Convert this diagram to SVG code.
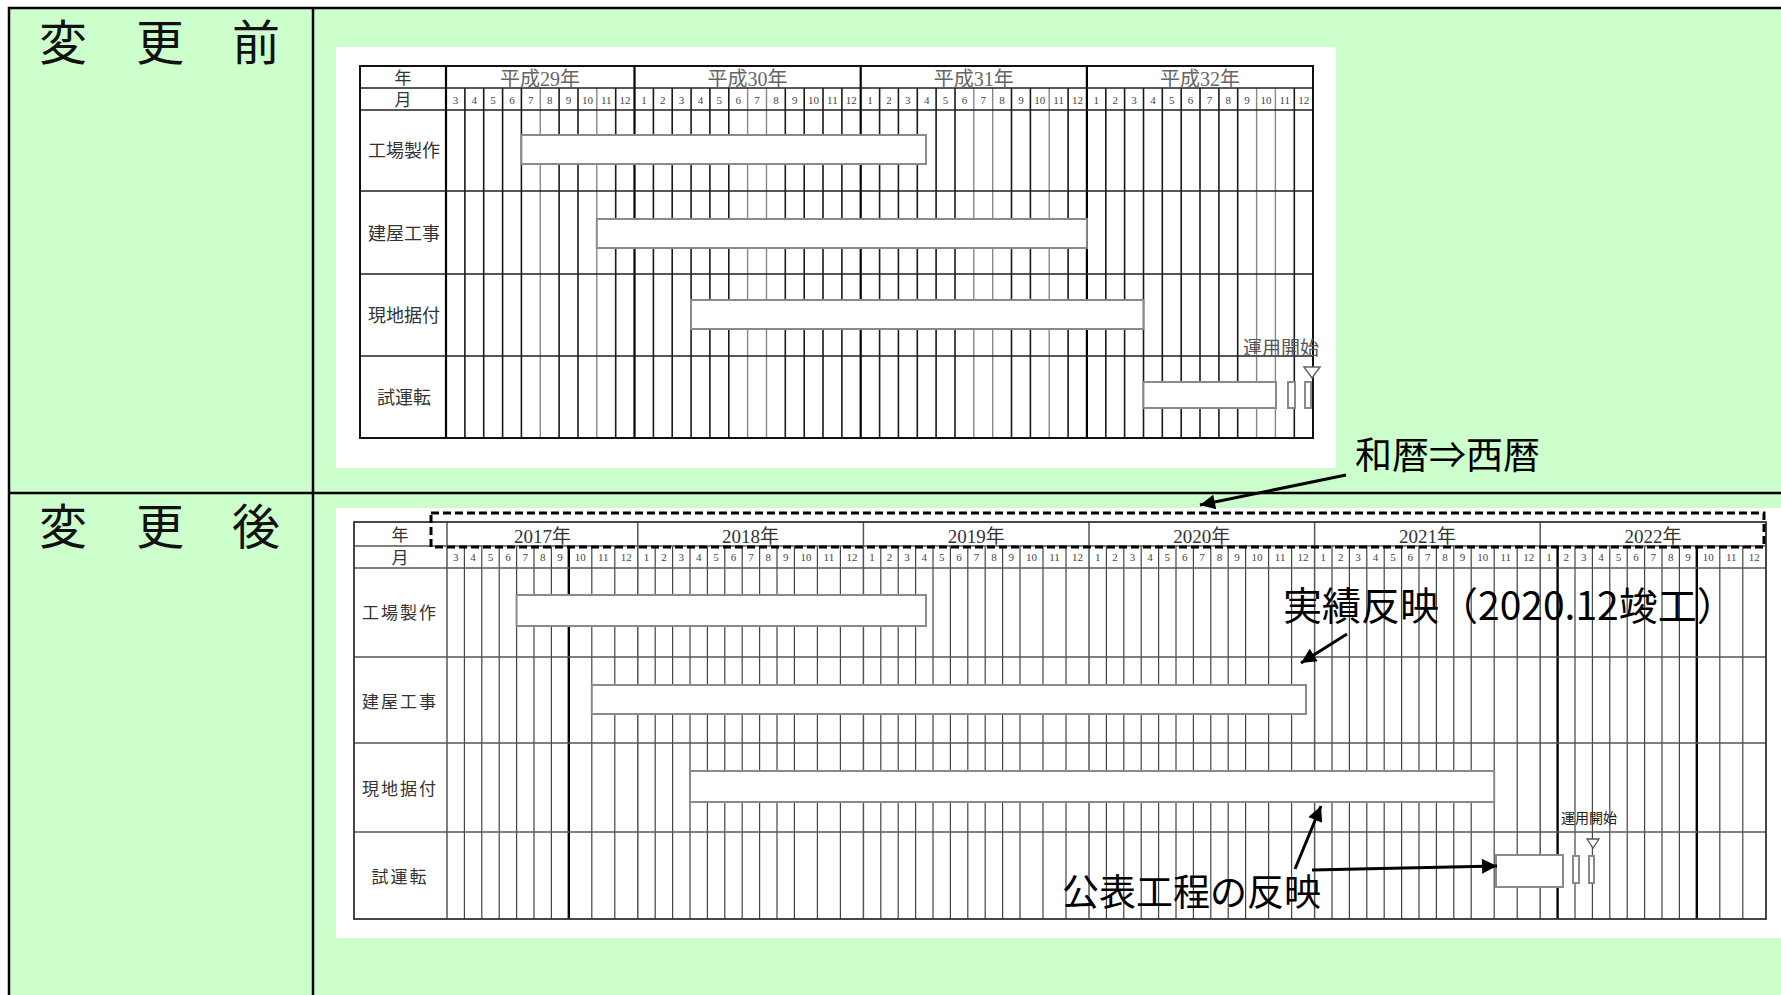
<svg xmlns="http://www.w3.org/2000/svg" width="1781" height="995" viewBox="0 0 1781 995">
<style>
.frame{stroke:#000;stroke-width:2.5;fill:none}
.bord{fill:none;stroke:#111;stroke-width:2}
.hl{stroke:#222;stroke-width:1.5;fill:none}
.gk{stroke:#1a1a1a;stroke-width:1.6;fill:none}
.gl{stroke:#888;stroke-width:1.4;fill:none}
.gy{stroke:#000;stroke-width:2.2;fill:none}
.lg{stroke:#444;stroke-width:1.2;fill:none}
.lgy{stroke:#555;stroke-width:1.5;fill:none}
.lth{stroke:#000;stroke-width:2.4;fill:none}
.bar{fill:#fff;stroke:#8a8a8a;stroke-width:2}
.big{font-family:"Noto Sans CJK JP","Noto Sans CJK SC",sans-serif;font-size:48px;fill:#111}
.lab{font-family:"Noto Sans CJK JP","Noto Sans CJK SC",sans-serif;font-size:17px;fill:#333;text-anchor:middle}
.lab18{font-size:18px}
.yr{font-family:"Liberation Serif","Noto Sans CJK JP",serif;font-size:20px;fill:#666;text-anchor:middle}
.yr2{font-family:"Liberation Serif","Noto Sans CJK JP",serif;font-size:19px;fill:#333;text-anchor:middle}
.m{font-family:"Liberation Serif",serif;font-size:11px;fill:#444;text-anchor:middle}
.ann{font-family:"Noto Sans CJK JP","Noto Sans CJK SC",sans-serif;font-size:37px;fill:#000}
.arr{stroke:#000;stroke-width:3;fill:none;marker-end:url(#ah)}
</style>
<defs>
<marker id="ah" viewBox="0 0 10 10" refX="10" refY="5" markerWidth="7" markerHeight="5" orient="auto" markerUnits="strokeWidth">
<path d="M0,0 L10,5 L0,10 z" fill="#000"/>
</marker>
</defs>
<rect x="0" y="0" width="1781" height="995" fill="#fff"/>
<rect x="9" y="8" width="1772" height="987" fill="#ccffcc"/>
<g id="frame">
<path class="frame" d="M9,995V8H1781 M313,8V995 M9,493H1781"/>
</g>
<g id="label-before"><text class="big" y="60" text-anchor="middle"><tspan x="63">変</tspan><tspan x="160">更</tspan><tspan x="256">前</tspan></text></g>
<g id="label-after"><text class="big" y="544" text-anchor="middle"><tspan x="63">変</tspan><tspan x="160">更</tspan><tspan x="256">後</tspan></text></g>

<g id="chart-before">
<rect x="336" y="47" width="1000" height="421" fill="#fff"/>
<path class="gk" d="M464.9 88V438M483.7 88V438M502.6 88V438M521.4 88V438M559.1 88V438M578 88V438M615.7 88V438M653.4 88V438M672.2 88V438M691.1 88V438M709.9 88V438M728.8 88V438M785.3 88V438M804.2 88V438M823 88V438M841.9 88V438M879.6 88V438M898.4 88V438M917.3 88V438M936.1 88V438M955 88V438M1011.5 88V438M1030.4 88V438M1068.1 88V438M1105.8 88V438M1124.6 88V438M1143.5 88V438M1162.3 88V438M1181.2 88V438M1200 88V438M1218.9 88V438M1237.7 88V438M1294.3 88V438"/>
<path class="gl" d="M540.3 88V438M596.8 88V438M747.6 88V438M766.5 88V438M973.8 88V438M992.7 88V438M1049.2 88V438M1256.6 88V438M1275.4 88V438"/>
<path class="gy" d="M634.5 66V438M860.7 66V438M1086.9 66V438M446 66V438"/>
<path class="hl" d="M360 88H1313M360 110H1313M360 191H1313M360 274H1313M360 356H1313"/>
<rect class="bord" x="360" y="66" width="953" height="372"/>
<text class="lab" x="403" y="84">年</text>
<text class="lab" x="403" y="106">月</text>
<text class="yr" y="86"><tspan x="540">平成29年</tspan><tspan x="747.6">平成30年</tspan><tspan x="973.8">平成31年</tspan><tspan x="1200">平成32年</tspan></text>
<text class="m" y="104"><tspan x="455.4">3</tspan><tspan x="474.3">4</tspan><tspan x="493.1">5</tspan><tspan x="512">6</tspan><tspan x="530.8">7</tspan><tspan x="549.7">8</tspan><tspan x="568.5">9</tspan><tspan x="587.4">10</tspan><tspan x="606.2">11</tspan><tspan x="625.1">12</tspan><tspan x="643.9">1</tspan><tspan x="662.8">2</tspan><tspan x="681.6">3</tspan><tspan x="700.5">4</tspan><tspan x="719.3">5</tspan><tspan x="738.2">6</tspan><tspan x="757">7</tspan><tspan x="775.9">8</tspan><tspan x="794.7">9</tspan><tspan x="813.6">10</tspan><tspan x="832.4">11</tspan><tspan x="851.3">12</tspan><tspan x="870.1">1</tspan><tspan x="889">2</tspan><tspan x="907.8">3</tspan><tspan x="926.7">4</tspan><tspan x="945.5">5</tspan><tspan x="964.4">6</tspan><tspan x="983.2">7</tspan><tspan x="1002.1">8</tspan><tspan x="1020.9">9</tspan><tspan x="1039.8">10</tspan><tspan x="1058.6">11</tspan><tspan x="1077.5">12</tspan><tspan x="1096.3">1</tspan><tspan x="1115.2">2</tspan><tspan x="1134">3</tspan><tspan x="1152.9">4</tspan><tspan x="1171.7">5</tspan><tspan x="1190.6">6</tspan><tspan x="1209.4">7</tspan><tspan x="1228.3">8</tspan><tspan x="1247.1">9</tspan><tspan x="1266">10</tspan><tspan x="1284.8">11</tspan><tspan x="1303.7">12</tspan></text>
<text class="lab lab18" x="404" y="157">工場製作</text>
<text class="lab lab18" x="404" y="240">建屋工事</text>
<text class="lab lab18" x="404" y="322">現地据付</text>
<text class="lab lab18" x="404" y="404">試運転</text>
<rect class="bar" x="521.4" y="135" width="404.6" height="29"/>
<rect class="bar" x="596.8" y="219" width="490.1" height="29"/>
<rect class="bar" x="691" y="300" width="452.4" height="29"/>
<rect class="bar" x="1143.4" y="382" width="132.6" height="26"/>
<rect class="bar" x="1288" y="382" width="7" height="26"/>
<rect class="bar" x="1305" y="382" width="6" height="26"/>
<path d="M1304,367 L1320,367 L1312,378 z" fill="#fff" stroke="#666" stroke-width="1.5"/>
<text x="1243" y="355" font-family="Noto Sans CJK JP, sans-serif" font-size="19" fill="#555">運用開始</text>
</g>

<g id="chart-after">
<rect x="336" y="508" width="1445" height="430" fill="#fff"/>
<path class="lg" d="M464.4 546V919M481.8 546V919M499.2 546V919M516.6 546V919M534 546V919M551.4 546V919M591.8 546V919M614.8 546V919M655.2 546V919M672.6 546V919M690 546V919M707.4 546V919M724.8 546V919M742.2 546V919M759.6 546V919M777 546V919M794.4 546V919M817.4 546V919M840.4 546V919M880.8 546V919M898.2 546V919M915.6 546V919M933 546V919M950.4 546V919M967.8 546V919M985.2 546V919M1002.6 546V919M1020 546V919M1043 546V919M1066 546V919M1106.4 546V919M1123.8 546V919M1141.2 546V919M1158.6 546V919M1176 546V919M1193.4 546V919M1210.8 546V919M1228.2 546V919M1245.6 546V919M1268.6 546V919M1291.6 546V919M1332 546V919M1349.4 546V919M1366.8 546V919M1384.2 546V919M1401.6 546V919M1419 546V919M1436.4 546V919M1453.8 546V919M1471.2 546V919M1494.2 546V919M1517.2 546V919M1575 546V919M1592.4 546V919M1609.8 546V919M1627.2 546V919M1644.6 546V919M1662 546V919M1679.4 546V919M1719.8 546V919M1742.8 546V919"/>
<path class="lth" d="M568.8 546V919M1557.6 546V919M1696.8 546V919"/>
<path class="lgy" d="M637.8 522V919M863.4 522V919M1089 522V919M1314.6 522V919M1540.2 522V919M447 522V919"/>
<path class="lgy" d="M354 546H1766M354 568H1766M354 657H1766M354 743H1766M354 832H1766"/>
<rect x="354" y="522" width="1412" height="397" fill="none" stroke="#333" stroke-width="1.8"/>
<text class="lab" x="400" y="541">年</text>
<text class="lab" x="400" y="564">月</text>
<text class="yr2" y="543"><tspan x="542.4">2017年</tspan><tspan x="750.6">2018年</tspan><tspan x="976.2">2019年</tspan><tspan x="1201.8">2020年</tspan><tspan x="1427.4">2021年</tspan><tspan x="1653">2022年</tspan></text>
<text class="m" y="561"><tspan x="455.7">3</tspan><tspan x="473.1">4</tspan><tspan x="490.5">5</tspan><tspan x="507.9">6</tspan><tspan x="525.3">7</tspan><tspan x="542.7">8</tspan><tspan x="560.1">9</tspan><tspan x="580.3">10</tspan><tspan x="603.3">11</tspan><tspan x="626.3">12</tspan><tspan x="646.5">1</tspan><tspan x="663.9">2</tspan><tspan x="681.3">3</tspan><tspan x="698.7">4</tspan><tspan x="716.1">5</tspan><tspan x="733.5">6</tspan><tspan x="750.9">7</tspan><tspan x="768.3">8</tspan><tspan x="785.7">9</tspan><tspan x="805.9">10</tspan><tspan x="828.9">11</tspan><tspan x="851.9">12</tspan><tspan x="872.1">1</tspan><tspan x="889.5">2</tspan><tspan x="906.9">3</tspan><tspan x="924.3">4</tspan><tspan x="941.7">5</tspan><tspan x="959.1">6</tspan><tspan x="976.5">7</tspan><tspan x="993.9">8</tspan><tspan x="1011.3">9</tspan><tspan x="1031.5">10</tspan><tspan x="1054.5">11</tspan><tspan x="1077.5">12</tspan><tspan x="1097.7">1</tspan><tspan x="1115.1">2</tspan><tspan x="1132.5">3</tspan><tspan x="1149.9">4</tspan><tspan x="1167.3">5</tspan><tspan x="1184.7">6</tspan><tspan x="1202.1">7</tspan><tspan x="1219.5">8</tspan><tspan x="1236.9">9</tspan><tspan x="1257.1">10</tspan><tspan x="1280.1">11</tspan><tspan x="1303.1">12</tspan><tspan x="1323.3">1</tspan><tspan x="1340.7">2</tspan><tspan x="1358.1">3</tspan><tspan x="1375.5">4</tspan><tspan x="1392.9">5</tspan><tspan x="1410.3">6</tspan><tspan x="1427.7">7</tspan><tspan x="1445.1">8</tspan><tspan x="1462.5">9</tspan><tspan x="1482.7">10</tspan><tspan x="1505.7">11</tspan><tspan x="1528.7">12</tspan><tspan x="1548.9">1</tspan><tspan x="1566.3">2</tspan><tspan x="1583.7">3</tspan><tspan x="1601.1">4</tspan><tspan x="1618.5">5</tspan><tspan x="1635.9">6</tspan><tspan x="1653.3">7</tspan><tspan x="1670.7">8</tspan><tspan x="1688.1">9</tspan><tspan x="1708.3">10</tspan><tspan x="1731.3">11</tspan><tspan x="1754.3">12</tspan></text>
<text class="lab" x="400" y="619" letter-spacing="2">工場製作</text>
<text class="lab" x="400" y="708" letter-spacing="2">建屋工事</text>
<text class="lab" x="400" y="795" letter-spacing="2">現地据付</text>
<text class="lab" x="400" y="883" letter-spacing="2">試運転</text>
<rect class="bar" x="516.6" y="595" width="409.4" height="31"/>
<rect class="bar" x="591.8" y="685" width="714.2" height="29"/>
<rect class="bar" x="690" y="771" width="804.2" height="31"/>
<rect class="bar" x="1496" y="855" width="67" height="32"/>
<rect class="bar" x="1573" y="856" width="6" height="27"/>
<rect class="bar" x="1589" y="856" width="5" height="27"/>
<path d="M1587,839 L1599,839 L1593,848 z" fill="#fff" stroke="#555" stroke-width="1.3"/>
<text x="1561" y="823" font-family="Noto Sans CJK JP, sans-serif" font-size="14" fill="#222">運用開始</text>
<rect x="431" y="513" width="1333" height="34" fill="none" stroke="#000" stroke-width="3" stroke-dasharray="8 4"/>
</g>

<g id="connectors">
<path class="arr" d="M1346,475 L1200,505"/>
<path class="arr" d="M1347,634 L1301,663"/>
<path class="arr" d="M1295,869 L1321,806"/>
<path class="arr" d="M1312,870 L1497,866"/>
</g>
<g id="annotations">
<text x="1355" y="469" font-family="Noto Sans CJK JP, sans-serif" font-size="37" fill="#000">和暦⇒西暦</text>
<text class="ann" x="1283" y="620" style="font-size:39px">実績反映（2020.12竣工）</text>
<text class="ann" x="1062" y="906">公表工程の反映</text>
</g>
</svg>
